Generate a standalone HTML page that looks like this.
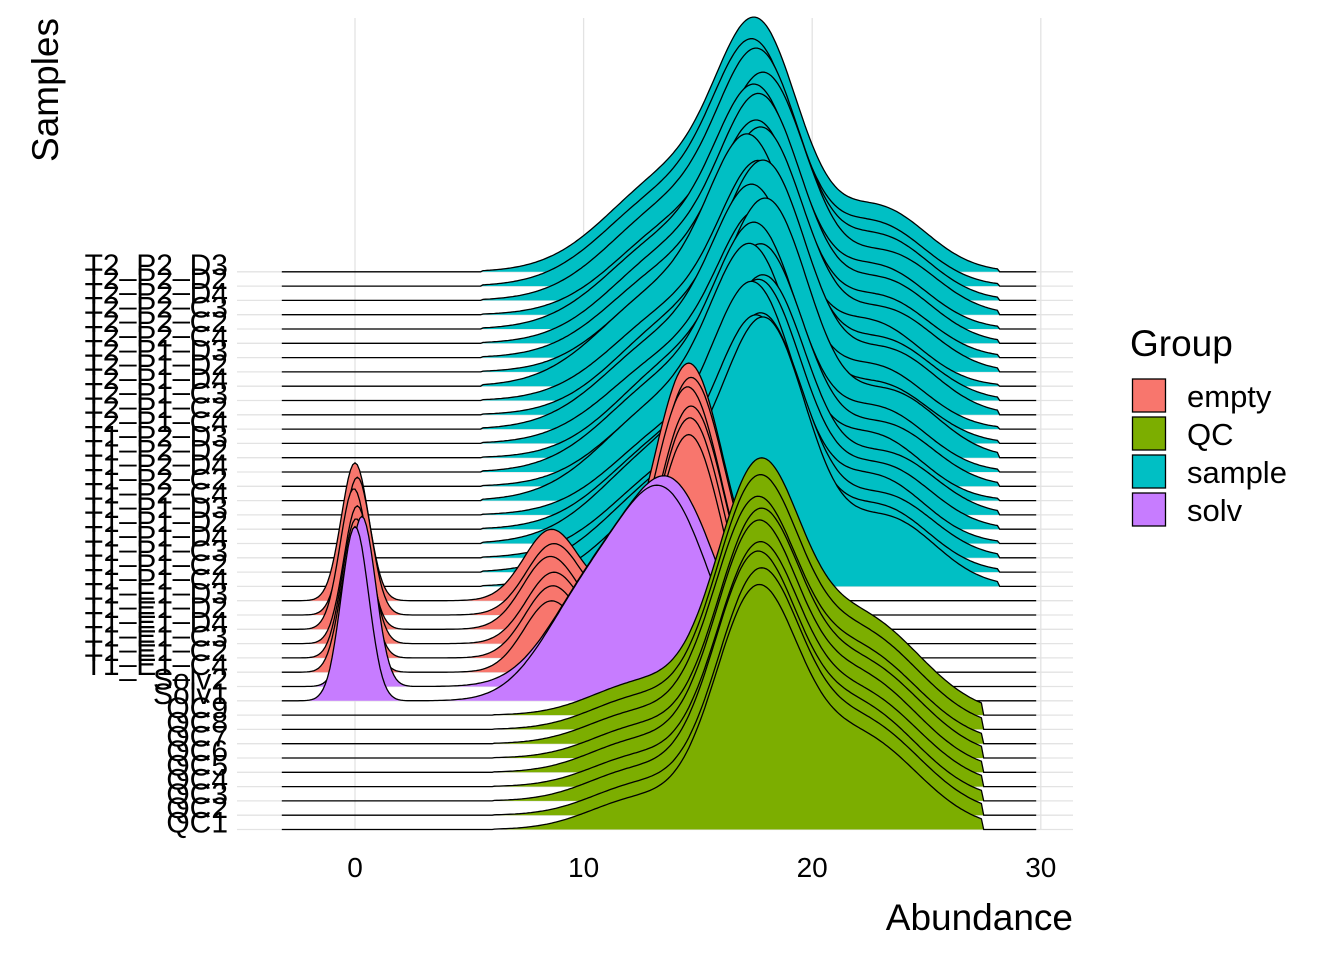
<!DOCTYPE html>
<html><head><meta charset="utf-8">
<style>
html,body{margin:0;padding:0;background:#fff;}
svg text{font-family:"Liberation Sans",sans-serif;fill:#000;}
</style></head>
<body>
<svg id="chart" width="1344" height="960" xmlns="http://www.w3.org/2000/svg"></svg>
<script>
// ---- data ----
const rowLabels = ["QC1","QC2","QC3","QC4","QC5","QC6","QC7","QC8","QC9",
 "Solv1","Solv2",
 "T1_E1_C4","T1_E1_C2","T1_E1_C3","T1_E1_D4","T1_E1_D2","T1_E1_D3",
 "T1_P1_C4","T1_P1_C2","T1_P1_C3","T1_P1_D4","T1_P1_D2","T1_P1_D3",
 "T1_P2_C4","T1_P2_C2","T1_P2_D4","T1_P2_D2","T1_P2_D3",
 "T2_P1_C4","T2_P1_C2","T2_P1_C3","T2_P1_D4","T2_P1_D2","T2_P1_D3",
 "T2_P2_C4","T2_P2_C2","T2_P2_C3","T2_P2_D4","T2_P2_D2","T2_P2_D3"];
const rowGroups = ["QC","QC","QC","QC","QC","QC","QC","QC","QC",
 "solv","solv",
 "empty","empty","empty","empty","empty","empty",
 "sample","sample","sample","sample","sample","sample","sample","sample","sample","sample","sample",
 "sample","sample","sample","sample","sample","sample","sample","sample","sample","sample","sample","sample"];
// peak mode shift (abundance units) per row
const rowShift = [0,0.1,-0.05,0.05,0,0.1,-0.05,0.05,0.1,
 0,0.3,
 0,0.05,0.1,-0.05,0.1,0,
 0.3,0,0.2,-0.2,0.1,0.3,-0.3,0.2,-0.1,0.4,0,-0.2,0.3,0.1,-0.4,0.2,0,0.1,-0.1,0.3,0,-0.2,-0.1];
// peak height in density units (max of row density)
const rowHeight = [1.0,1.01,1.02,1.0,1.03,1.02,1.01,1.04,1.05,
 0.88,0.86,
 0.97,0.98,0.97,0.99,0.97,0.97,
 1.1,1.05,1.0,1.07,1.02,0.98,1.05,0.99,1.02,1.06,0.95,1.0,1.04,0.98,1.03,1.0,0.97,1.02,1.0,0.99,1.03,1.01,1.04];
// group density components: [mean, sd, weight]
const compQC = [[17.5,1.8,1],[22,2.6,0.42],[12.5,2.2,0.14]];
const compSample = [[17.8,1.8,1],[23,2.1,0.3],[14,2.8,0.45]];
const compEmpty = [[0,0.6,0.58],[8.6,1.2,0.3],[14.6,1.5,1]];
const compSolv = [[0,0.6,0.88],[10,1.9,0.45],[13.6,2.0,1]];
const groupRange = {QC:[6,27.5], sample:[5.5,28.2], empty:[-3.2,22], solv:[-3.2,24]};
const xTicks = [0,10,20,30];
const groups = ["empty","QC","sample","solv"];
const groupColors = {empty:"#F8766D",QC:"#7CAE00",sample:"#00BFC4",solv:"#C77CFF"};

// ---- scales ----
const NS="http://www.w3.org/2000/svg";
const svg=document.getElementById('chart');
const X0=355, PXU=22.86;
const xs=v=>X0+v*PXU;
const BASE0=829.5, ROWH=14.3;
const ys=i=>BASE0-i*ROWH;
const HPX=245;
function mk(t,a,p){const e=document.createElementNS(NS,t);for(const k in a)e.setAttribute(k,a[k]);(p||svg).appendChild(e);return e;}

// gridlines
const grid=mk('g',{});


xTicks.forEach(t=>{const l=mk('line',{x1:xs(t),x2:xs(t),y1:18,y2:830,stroke:'#e3e3e3','stroke-width':1.3},grid);

});
rowLabels.forEach((r,i)=>{const l=mk('line',{x1:237,x2:1073,y1:ys(i),y2:ys(i),stroke:'#e3e3e3','stroke-width':1.3},grid);

});

function comps(g){return g==='QC'?compQC:g==='sample'?compSample:g==='empty'?compEmpty:compSolv;}
const XMIN=-3.2, XMAX=29.8;
const ridges=mk('g',{});


for(let i=rowLabels.length-1;i>=0;i--){
  const g=rowGroups[i], c=comps(g), sh=rowShift[i];
  const f=x=>c.reduce((s,k)=>s+k[2]*Math.exp(-0.5*((x-k[0]-sh)/k[1])**2),0);
  let mx=0;for(let x=XMIN;x<=XMAX;x+=0.05)mx=Math.max(mx,f(x));
  const [lo,hi]=groupRange[g];
  const h=x=>(x<lo||x>hi)?0:f(x)/mx*rowHeight[i]*HPX;
  const b=ys(i);
  let fill=`M${xs(lo)},${b}`;
  for(let x=lo;x<=hi+1e-9;x+=0.1)fill+=`L${xs(x).toFixed(1)},${(b-h(x)).toFixed(1)}`;
  fill+=`L${xs(hi)},${b}Z`;
  const p=mk('path',{d:fill,fill:groupColors[g],stroke:'none'},ridges);
  
  
  let line=`M${xs(XMIN)},${b}`;
  for(let x=XMIN;x<=XMAX+1e-9;x+=0.1){const xx=Math.min(x,XMAX);line+=`L${xs(xx).toFixed(1)},${(b-h(xx)).toFixed(1)}`;}
  const l=mk('path',{d:line,fill:'none',stroke:'#000','stroke-width':1.3},ridges);
  
  
}

// y labels
rowLabels.forEach((r,i)=>{const t=mk('text',{x:228,y:ys(i)+3,'text-anchor':'end','font-size':30,fill:'#000'});
t.textContent=r;

});
// x ticks
xTicks.forEach(v=>{const t=mk('text',{x:xs(v),y:877,'text-anchor':'middle','font-size':28,fill:'#1a1a1a'});
t.textContent=v;

});
// titles
let t=mk('text',{x:1073,y:930,'text-anchor':'end','font-size':37});
t.textContent='Abundance';


t=mk('text',{x:0,y:0,'text-anchor':'end','font-size':37,transform:'translate(58,18) rotate(-90)'});
t.textContent='Samples';


// legend
const lg=mk('g',{});


t=mk('text',{x:1130,y:356,'font-size':37},lg);
t.textContent='Group';


groups.forEach((g,k)=>{const y=379+k*38;
 const r=mk('rect',{x:1132.5,y:y,width:33,height:33,fill:groupColors[g],stroke:'#000','stroke-width':1.3},lg);
 
 
 const tx=mk('text',{x:1187,y:y+28,'font-size':31},lg);
 tx.textContent=g;
 
 });
</script>
</body></html>
